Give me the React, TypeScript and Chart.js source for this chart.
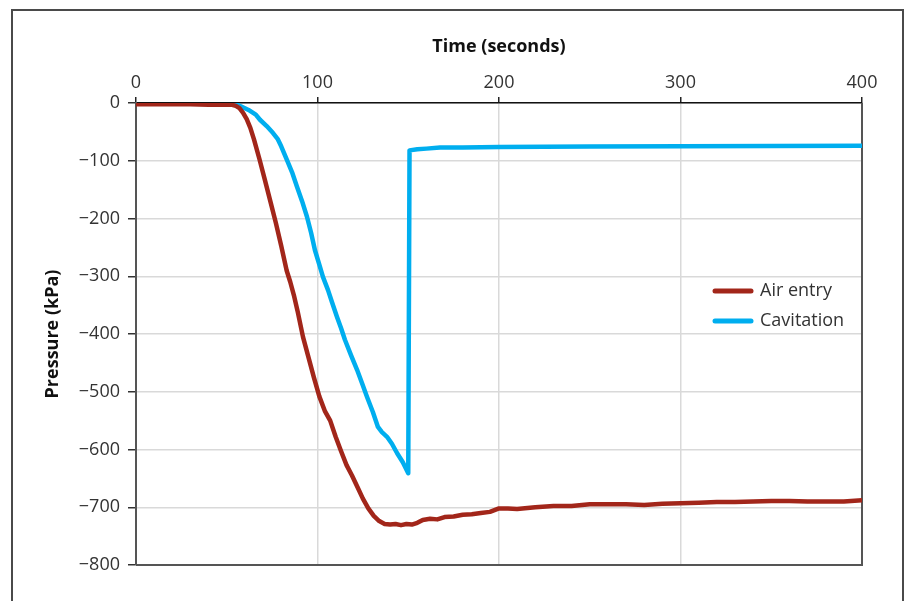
import { useEffect, useRef } from 'react';
import { Chart, registerables } from 'chart.js';

Chart.register(...registerables);

const seriesNames = ['Air entry', 'Cavitation'];
const seriesColors = ['#a2261a', '#00aeef'];

const airTime = [0, 10, 20, 30, 40, 45, 50, 53, 55, 57, 59, 61, 63, 65, 68, 71, 74, 77, 80, 83, 85, 87, 89, 92, 95, 98, 101, 104, 107, 110, 113, 116, 119, 122, 125, 128, 131, 134, 137, 140, 143, 146, 149, 152, 155, 158, 162, 166, 170, 175, 180, 185, 190, 195, 200, 205, 210, 220, 230, 240, 250, 260, 270, 280, 290, 300, 310, 320, 330, 340, 350, 360, 370, 380, 390, 400];
const airPressure = [-2, -2, -2, -2, -3, -3, -3, -3, -5, -9, -17, -28, -43, -63, -97, -133, -170, -207, -247, -290, -310, -333, -360, -405, -440, -475, -508, -533, -550, -578, -603, -627, -645, -665, -685, -702, -715, -724, -729, -730, -729, -731, -729, -730, -727, -722, -720, -721, -717, -716, -713, -712, -710, -708, -702, -702, -703, -700, -698, -698, -695, -695, -695, -696, -694, -693, -692, -691, -691, -690, -689, -689, -690, -690, -690, -688];

const cavTime = [0, 20, 40, 50, 55, 58, 62, 66, 68.3, 72, 75.5, 78, 80, 83.2, 86, 88.7, 91.5, 94.2, 96.5, 98.6, 101, 103, 105.8, 108, 110.7, 113, 115.1, 118.5, 121.8, 124.5, 127.3, 130.5, 133.3, 135.5, 138.3, 141, 143.8, 147, 150, 150.7, 155, 160, 167.5, 180, 200, 250, 300, 350, 400];
const cavPressure = [1, 0, 0, -1, -2, -6, -12, -20, -29, -40, -52, -62, -75, -99, -120, -145, -170, -197, -225, -255, -280, -301, -324, -345, -370, -390, -410, -437, -462, -485, -509, -535, -561, -570, -578, -590, -606, -622, -641, -82, -80, -79, -77, -77, -76, -75.5, -75, -74.5, -74];

const xTicks = [0, 100, 200, 300, 400];
const yTicks = [0, -100, -200, -300, -400, -500, -600, -700, -800];

const FONT = '"Open Sans", "Noto Sans", sans-serif';
const TEXT = '#333333';

const edgePlugin = {
  id: 'edges',
  beforeDatasetsDraw(chart: any) {
    const { ctx, chartArea: a } = chart;
    ctx.save();
    ctx.strokeStyle = '#555555';
    ctx.lineWidth = 2;
    ctx.beginPath();
    ctx.moveTo(a.right, a.top);
    ctx.lineTo(a.right, a.bottom);
    ctx.lineTo(a.left, a.bottom);
    ctx.stroke();
    ctx.restore();
  },
};

const legendPlugin = {
  id: 'insideLegend',
  afterDraw(chart: any) {
    const { ctx, chartArea: a } = chart;
    ctx.save();
    const x0 = a.right - 147;
    const y0 = a.top + 188;
    chart.data.datasets.forEach((ds: any, i: number) => {
      const y = y0 + i * 30;
      ctx.strokeStyle = ds.borderColor;
      ctx.lineWidth = 5;
      ctx.lineCap = 'round';
      ctx.beginPath();
      ctx.moveTo(x0, y);
      ctx.lineTo(x0 + 36, y);
      ctx.stroke();
      ctx.fillStyle = TEXT;
      ctx.font = `18px ${FONT}`;
      ctx.textBaseline = 'middle';
      ctx.textAlign = 'left';
      ctx.fillText(ds.label, x0 + 45, y);
    });
    ctx.restore();
  },
};

const fmt = (v: number) => (v < 0 ? '\u2212' + Math.abs(v) : String(v));

export default function App() {
  const ref = useRef<HTMLCanvasElement | null>(null);
  useEffect(() => {
    if (!ref.current) return;
    const chart = new Chart(ref.current, {
      type: 'line',
      data: {
        datasets: [
          {
            label: seriesNames[0],
            data: airTime.map((t, i) => ({ x: t, y: airPressure[i] })),
            borderColor: seriesColors[0],
            borderWidth: 4.5,
            pointRadius: 0,
            tension: 0,
            borderJoinStyle: 'round',
            borderCapStyle: 'round',
          },
          {
            label: seriesNames[1],
            data: cavTime.map((t, i) => ({ x: t, y: cavPressure[i] })),
            borderColor: seriesColors[1],
            borderWidth: 4.5,
            pointRadius: 0,
            tension: 0,
            borderJoinStyle: 'round',
            borderCapStyle: 'round',
          },
        ],
      },
      options: {
        animation: false,
        responsive: false,
        maintainAspectRatio: false,
        layout: { padding: { left: 0, right: 47, top: 0, bottom: 36 } },
        plugins: { legend: { display: false }, tooltip: { enabled: false } },
        scales: {
          x: {
            type: 'linear',
            position: 'top',
            min: xTicks[0],
            max: xTicks[xTicks.length - 1],
            afterBuildTicks: (s: any) => {
              s.ticks = xTicks.map((v) => ({ value: v }));
            },
            afterFit: (s: any) => {
              s.height = 103;
            },
            ticks: {
              color: TEXT,
              font: { family: FONT, size: 18 },
              padding: 3,
              maxRotation: 0,
              callback: (v: any) => fmt(Number(v)),
            },
            grid: { color: '#d9d9d9', lineWidth: 1.5, tickColor: '#222', tickLength: 6, tickWidth: 1.5 },
            border: { display: true, color: '#111111', width: 1.5 },
            title: {
              display: true,
              text: 'Time (seconds)',
              color: '#111',
              font: { family: FONT, size: 18, weight: 'bold' },
              padding: { top: 36, bottom: 0 },
            },
          },
          y: {
            type: 'linear',
            min: yTicks[yTicks.length - 1],
            max: yTicks[0],
            afterBuildTicks: (s: any) => {
              s.ticks = [...yTicks].reverse().map((v) => ({ value: v }));
            },
            afterFit: (s: any) => {
              s.width = 136;
            },
            ticks: {
              color: TEXT,
              font: { family: FONT, size: 18 },
              padding: 8,
              callback: (v: any) => fmt(Number(v)),
            },
            grid: { color: '#d9d9d9', lineWidth: 1.5, tickColor: '#333', tickLength: 8, tickWidth: 1.5 },
            border: { display: true, color: '#555555', width: 2 },
            title: {
              display: true,
              text: 'Pressure (kPa)',
              color: '#111',
              font: { family: FONT, size: 18, weight: 'bold' },
              padding: { top: 42, bottom: 0 },
            },
          },
        },
      } as any,
      plugins: [edgePlugin, legendPlugin],
    });
    return () => chart.destroy();
  }, []);

  return (
    <div style={{ position: 'fixed', left: 0, top: 0, width: 909, height: 601, overflow: 'hidden', background: '#fff' }}>
      <div
        style={{
          position: 'absolute',
          left: 11,
          top: 9,
          width: 893,
          height: 700,
          border: '2px solid #4a4a4a',
          boxSizing: 'border-box',
        }}
      />
      <canvas ref={ref} width={909} height={601} style={{ position: 'absolute', left: 0, top: 0, width: 909, height: 601 }} />
    </div>
  );
}
